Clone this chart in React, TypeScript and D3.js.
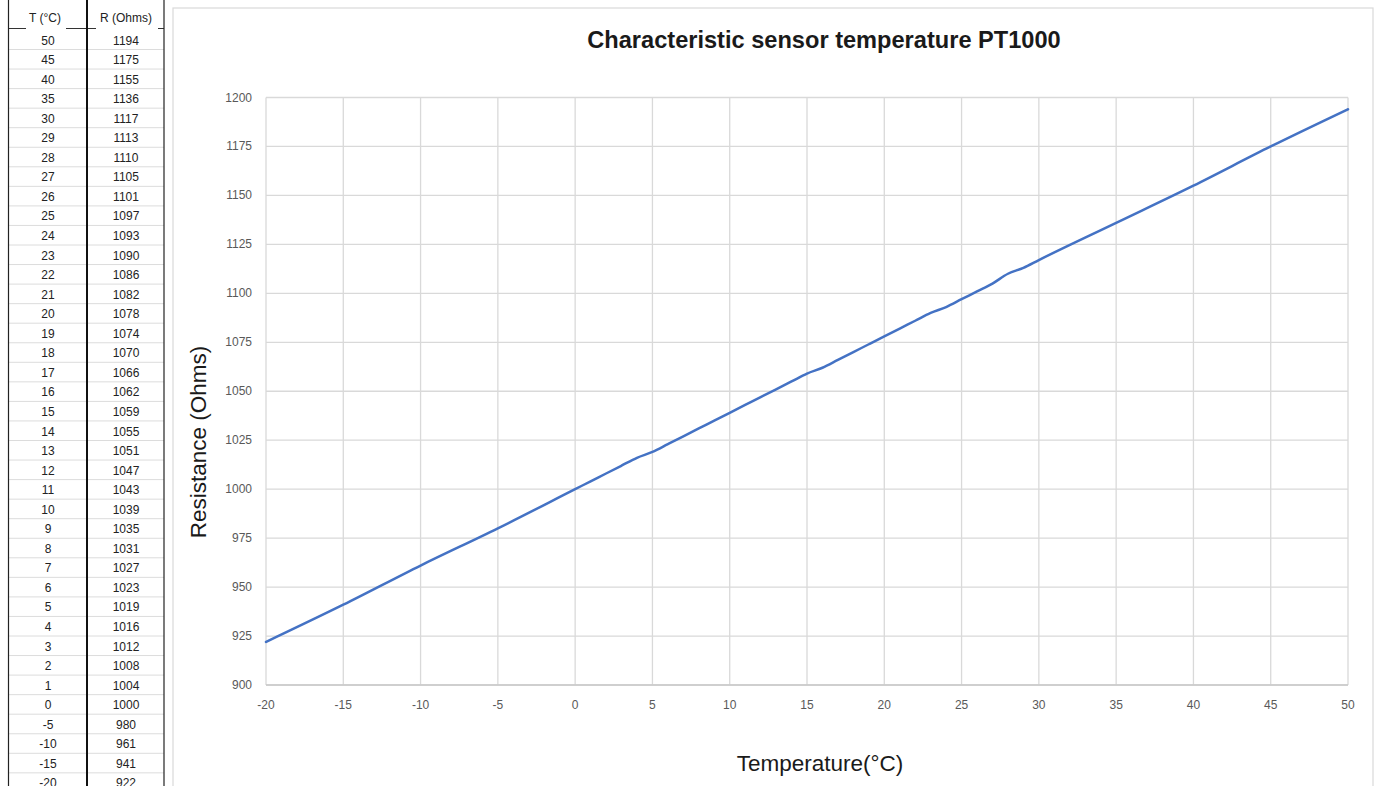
import React from "react";
import * as d3 from "d3";

const temps = [-20, -15, -10, -5, 0, 1, 2, 3, 4, 5, 6, 7, 8, 9, 10, 11, 12, 13, 14, 15, 16, 17, 18, 19, 20, 21, 22, 23, 24, 25, 26, 27, 28, 29, 30, 35, 40, 45, 50];
const resist = [922, 941, 961, 980, 1000, 1004, 1008, 1012, 1016, 1019, 1023, 1027, 1031, 1035, 1039, 1043, 1047, 1051, 1055, 1059, 1062, 1066, 1070, 1074, 1078, 1082, 1086, 1090, 1093, 1097, 1101, 1105, 1110, 1113, 1117, 1136, 1155, 1175, 1194];
const xTicks = [-20, -15, -10, -5, 0, 5, 10, 15, 20, 25, 30, 35, 40, 45, 50];
const yTicks = [900, 925, 950, 975, 1000, 1025, 1050, 1075, 1100, 1125, 1150, 1175, 1200];
const tableHeaders = ["T (°C)", "R (Ohms)"];
const title = "Characteristic sensor temperature PT1000";
const xTitle = "Temperature(°C)";
const yTitle = "Resistance (Ohms)";

export default function App() {
  const W = 1379, H = 786;
  const x = d3.scaleLinear().domain([-20, 50]).range([266, 1348]);
  const y = d3.scaleLinear().domain([900, 1200]).range([685, 97.5]);
  const pts: [number, number][] = temps.map((t, i) => [t, resist[i]]);
  const line = d3.line<[number, number]>().x(d => x(d[0])).y(d => y(d[1])).curve(d3.curveMonotoneX);

  // table rows (descending order as in the sheet)
  const rows = pts.slice().reverse();
  const rowY = d3.scaleLinear().domain([0, 1]).range([40, 40 + 19.55]);
  const colT = 48, colR = 126;
  const tabL = 8.5, tabMid = 87, tabR = 164;
  const gridC = "#d9d9d9";
  const font = "'Liberation Sans', Arial, sans-serif";

  return (
    <div style={{ position: "fixed", left: 0, top: 0 }}>
      <svg width={W} height={H} style={{ display: "block", background: "#fff" }}>
        {/* Table */}
        {rows.map((r, i) => (
          <line key={"rl" + i} x1={tabL} x2={tabR} y1={rowY(i) + 9.5} y2={rowY(i) + 9.5} stroke="#dcdcdc" strokeWidth={1} />
        ))}
        <line x1={tabL} x2={tabR} y1={28.5} y2={28.5} stroke="#333" strokeWidth={1} />
        <line x1={tabL} x2={tabL} y1={0} y2={H} stroke="#222" strokeWidth={1.2} />
        <line x1={tabMid} x2={tabMid} y1={0} y2={H} stroke="#111" strokeWidth={2} />
        <line x1={tabR} x2={tabR} y1={0} y2={H} stroke="#222" strokeWidth={1.2} />
        <rect x={26} y={10} width={40} height={22} fill="#fff" />
        <rect x={96} y={10} width={62} height={22} fill="#fff" />
        <text x={colT - 3} y={22} textAnchor="middle" fontFamily={font} fontSize={12} fill="#222">{tableHeaders[0]}</text>
        <text x={colR} y={22} textAnchor="middle" fontFamily={font} fontSize={12} fill="#222">{tableHeaders[1]}</text>
        {rows.map((r, i) => (
          <g key={"rt" + i} fontFamily={font} fontSize={12} fill="#222" textAnchor="middle">
            <text x={colT} y={rowY(i) + 4.5}>{r[0]}</text>
            <text x={colR} y={rowY(i) + 4.5}>{r[1]}</text>
          </g>
        ))}

        {/* Chart panel */}
        <rect x={173} y={8} width={1200} height={H} fill="#fff" stroke={gridC} strokeWidth={1.2} />
        <text x={824} y={48} textAnchor="middle" fontFamily={font} fontWeight="bold" fontSize={23.6} fill="#1a1a1a">{title}</text>

        {/* Grid */}
        {xTicks.map(t => (
          <line key={"gx" + t} x1={x(t)} x2={x(t)} y1={y(1200)} y2={y(900)} stroke={gridC} strokeWidth={1.3} />
        ))}
        {yTicks.map(t => (
          <line key={"gy" + t} x1={x(-20)} x2={x(50)} y1={y(t)} y2={y(t)} stroke={gridC} strokeWidth={1.3} />
        ))}
        <line x1={x(-20)} x2={x(50)} y1={y(900)} y2={y(900)} stroke="#c8c8c8" strokeWidth={1.3} />

        {/* Tick labels */}
        {yTicks.map(t => (
          <text key={"ty" + t} x={252} y={y(t) + 4} textAnchor="end" fontFamily={font} fontSize={12} fill="#595959">{t}</text>
        ))}
        {xTicks.map(t => (
          <text key={"tx" + t} x={x(t)} y={709} textAnchor="middle" fontFamily={font} fontSize={12} fill="#595959">{t}</text>
        ))}

        {/* Axis titles */}
        <text x={820} y={771} textAnchor="middle" fontFamily={font} fontSize={22.5} fill="#1a1a1a">{xTitle}</text>
        <text transform={`translate(206,442) rotate(-90)`} textAnchor="middle" fontFamily={font} fontSize={22.5} fill="#1a1a1a">{yTitle}</text>

        {/* Line */}
        <path d={line(pts) ?? ""} fill="none" stroke="#4472c4" strokeWidth={2.5} strokeLinejoin="round" strokeLinecap="round" />
      </svg>
    </div>
  );
}
